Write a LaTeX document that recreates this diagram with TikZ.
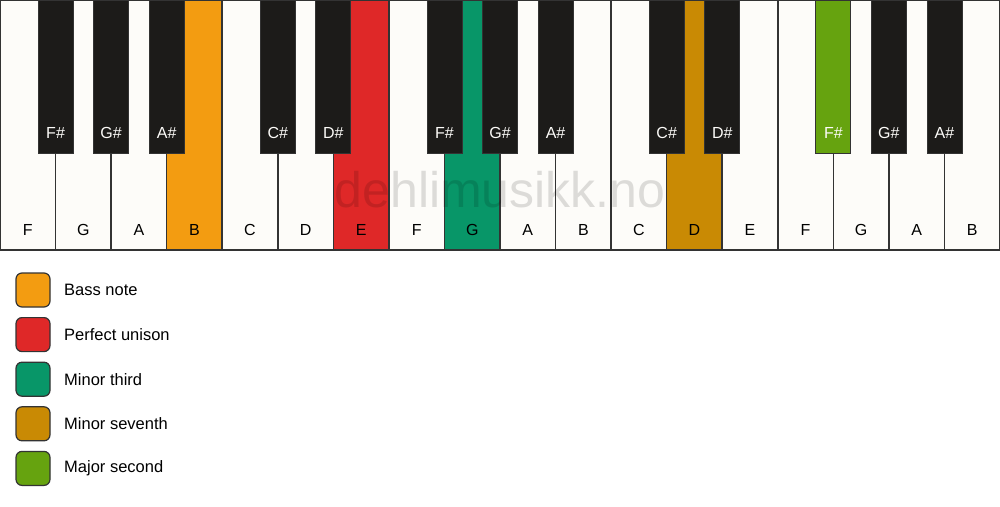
\documentclass[tikz,border=0pt]{standalone}
\usepackage{fontspec}
\setmainfont{Liberation Sans}
\usetikzlibrary{positioning}
\usetikzlibrary{calc}
\definecolor{keywhite}{HTML}{FDFCF9}
\definecolor{keyblack}{HTML}{1C1B19}
\definecolor{keyedge}{HTML}{333333}
\definecolor{bassnote}{HTML}{F39C11}
\definecolor{unison}{HTML}{DF2828}
\definecolor{minthird}{HTML}{089668}
\definecolor{minseventh}{HTML}{C98A04}
\definecolor{majsecond}{HTML}{66A30F}
\tikzstyle{whitekey}=[rectangle,draw=keyedge,line width=1.5pt,minimum width=55.56pt,minimum height=250pt,anchor=north west,inner sep=0pt,outer sep=0pt]
\tikzstyle{blackkey}=[rectangle,draw=keyedge,line width=0.8pt,minimum width=35pt,minimum height=153pt,anchor=north,inner sep=0pt,outer sep=0pt]
\tikzstyle{whitename}=[font=\fontsize{16}{19}\selectfont,text=black]
\tikzstyle{blackname}=[font=\fontsize{16}{19}\selectfont,text=keywhite]
\tikzstyle{legendbox}=[rectangle,draw=keyedge,line width=1.2pt,rounded corners=6pt,minimum size=34pt,inner sep=0pt,outer sep=0pt]
\tikzstyle{legendtext}=[font=\fontsize{16.5}{19}\selectfont,inner sep=0pt,anchor=west]
\tikzstyle{watermark}=[font=\fontsize{50}{60}\selectfont,text=black,text opacity=0.13,anchor=base,inner sep=0pt]

\begin{document}
\begin{tikzpicture}
	[x=1pt,y=1pt]
	\useasboundingbox[fill=white] (0,0) rectangle (1000,-506);
	% white keys
	\foreach \i/\n/\c in {1/F/keywhite,2/G/keywhite,3/A/keywhite,4/B/bassnote,5/C/keywhite,6/D/keywhite,7/E/unison,8/F/keywhite,9/G/minthird,10/A/keywhite,11/B/keywhite,12/C/keywhite,13/D/minseventh,14/E/keywhite,15/F/keywhite,16/G/keywhite,17/A/keywhite,18/B/keywhite}{
		\node (w\i) [whitekey,fill=\c] at ({(\i-1)*55.556},0) {};
		\node (lw\i) [whitename] at ($(w\i.south)+(0,20)$) {\n};
	}
	% black keys
	\foreach \j/\n/\c in {1/F\#/keyblack,2/G\#/keyblack,3/A\#/keyblack,5/C\#/keyblack,6/D\#/keyblack,8/F\#/keyblack,9/G\#/keyblack,10/A\#/keyblack,12/C\#/keyblack,13/D\#/keyblack,15/F\#/majsecond,16/G\#/keyblack,17/A\#/keyblack}{
		\node (b\j) [blackkey,fill=\c] at (w\j.north east) {};
		\node (lb\j) [blackname] at ($(b\j.south)+(0,20)$) {\n};
	}
	\node (wm) [watermark] at (500,-207) {dehlimusikk.no};
	% legend
	\node (k1) [legendbox,fill=bassnote] at (33,-290) {};
	\node (k2) [legendbox,fill=unison,below=10.6pt of k1] {};
	\node (k3) [legendbox,fill=minthird,below=10.6pt of k2] {};
	\node (k4) [legendbox,fill=minseventh,below=10.6pt of k3] {};
	\node (k5) [legendbox,fill=majsecond,below=10.6pt of k4] {};
	\node (t1) [legendtext,right=14pt of k1] {Bass note};
	\node (t2) [legendtext,right=14pt of k2] {Perfect unison};
	\node (t3) [legendtext,right=14pt of k3] {Minor third};
	\node (t4) [legendtext,right=14pt of k4] {Minor seventh};
	\node (t5) [legendtext,right=14pt of k5] {Major second};
\end{tikzpicture}
\end{document}
